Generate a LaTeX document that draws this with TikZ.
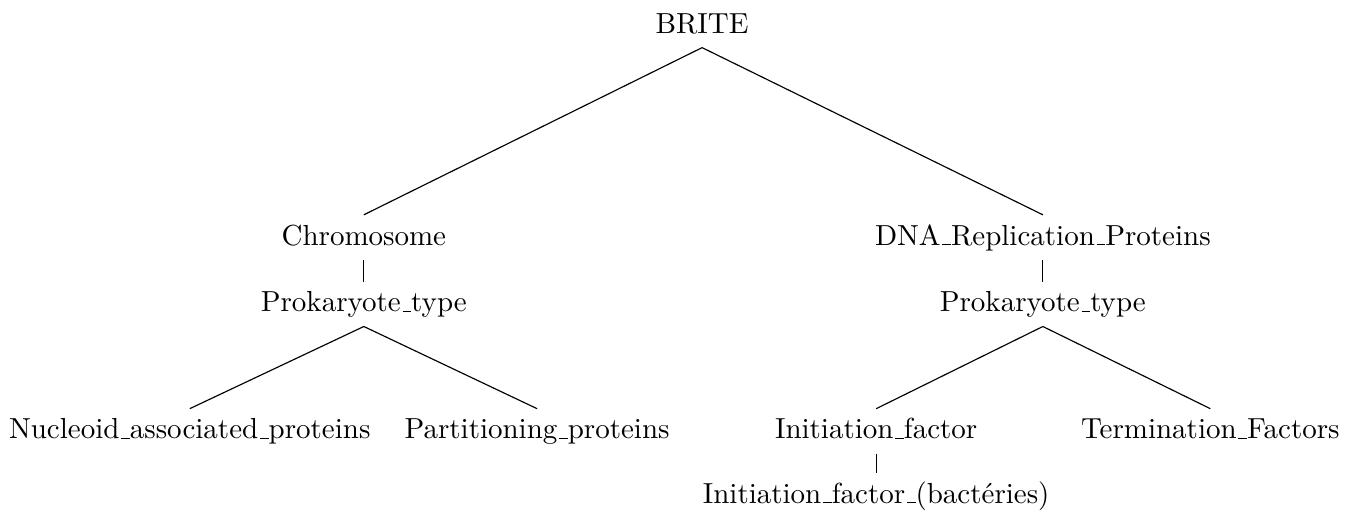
\documentclass[tikz,border=0pt]{standalone}
\usepackage{amsmath}
\usepackage{tikz}
\newcommand{\us}{\leavevmode\kern.06em\vbox{\hrule width.3em}}

\begin{document}
\begin{tikzpicture}[lbl/.style={anchor=base,text height=1.6ex,text depth=.35ex}]
      \useasboundingbox (0,0) rectangle (16.46,-6.23);
      \node[lbl] (brite) at (8.51,-0.40) {BRITE};
      \node[lbl] (chrom) at (4.41,-2.97) {Chromosome};
      \node[lbl] (dna) at (12.64,-2.97) {DNA\us Replication\us Proteins};
      \node[lbl] (prokA) at (4.41,-3.78) {Prokaryote\us type};
      \node[lbl] (prokB) at (12.64,-3.78) {Prokaryote\us type};
      \node[lbl] (nucl) at (2.30,-5.32) {Nucleoid\us associated\us proteins};
      \node[lbl] (part) at (6.51,-5.32) {Partitioning\us proteins};
      \node[lbl] (init) at (10.62,-5.32) {Initiation\us factor};
      \node[lbl] (term) at (14.67,-5.32) {Termination\us Factors};
      \node[lbl] (bact) at (10.62,-6.10) {Initiation\us factor\us (bactéries)};

\draw (brite.south) -- (chrom.north);
\draw (brite.south) -- (dna.north);
\draw (chrom.south) -- (prokA.north);
\draw (dna.south) -- (prokB.north);
\draw (prokA.south) -- (nucl.north);
\draw (prokA.south) -- (part.north);
\draw (prokB.south) -- (init.north);
\draw (prokB.south) -- (term.north);
\draw (init.south) -- (bact.north);
\end{tikzpicture}
\end{document}
